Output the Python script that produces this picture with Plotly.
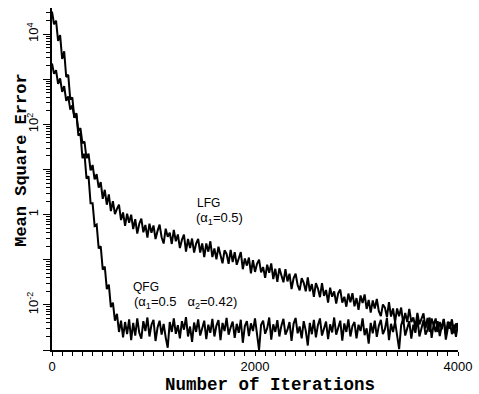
import plotly.graph_objects as go

# Iterations sampled every 20 steps (0..4000)
iterations = list(range(0, 4001, 20))

# log10(Mean Square Error), LFG (alpha1=0.5)
lfg_log10_mse = [
    3.35, 3.12, 3.20, 2.90, 3.02, 2.72, 2.85, 2.52, 2.62, 2.33,
    2.42, 2.15, 2.22, 1.85, 1.92, 1.58, 1.62, 1.25, 1.35, 0.98,
    1.10, 0.78, 0.90, 0.60, 0.72, 0.35, 0.55, 0.22, 0.45, 0.08,
    0.30, 0.01, 0.13, 0.22, -0.12, 0.05, -0.25, 0.02, -0.18, 0.00,
    -0.32, -0.10, -0.42, -0.20, -0.09, -0.39, -0.23, -0.51, -0.20, -0.40,
    -0.24, -0.54, -0.36, -0.22, -0.50, -0.64, -0.31, -0.49, -0.40, -0.65,
    -0.34, -0.59, -0.44, -0.74, -0.56, -0.44, -0.82, -0.54, -0.74, -0.53,
    -0.84, -0.64, -0.54, -0.84, -0.64, -0.94, -0.64, -0.82, -0.59, -0.94,
    -0.75, -0.99, -0.71, -0.90, -1.08, -0.79, -0.87, -1.09, -0.78, -1.05,
    -0.83, -1.11, -0.99, -0.83, -1.21, -0.97, -1.13, -0.95, -1.30, -1.01,
    -1.27, -1.09, -1.00, -1.28, -1.16, -1.40, -1.11, -1.29, -1.08, -1.43,
    -1.20, -1.49, -1.19, -1.34, -1.50, -1.21, -1.48, -1.31, -1.65, -1.41,
    -1.31, -1.56, -1.68, -1.41, -1.51, -1.70, -1.39, -1.70, -1.54, -1.82,
    -1.52, -1.64, -1.83, -1.52, -1.80, -1.67, -1.95, -1.62, -1.82, -1.70,
    -1.97, -1.74, -1.66, -1.95, -1.82, -2.04, -1.75, -1.94, -1.74, -2.03,
    -1.85, -2.11, -1.79, -1.96, -1.77, -2.09, -1.89, -2.17, -1.90, -2.08,
    -1.87, -2.14, -2.25, -1.99, -2.06, -2.27, -1.94, -2.26, -2.08, -2.38,
    -2.08, -2.25, -2.06, -2.41, -2.18, -2.38, -2.09, -2.38, -2.28, -2.50,
    -2.18, -2.43, -2.30, -2.19, -2.52, -2.29, -2.60, -2.30, -2.45, -2.30,
    -2.60, -2.38, -2.54, -2.31, -2.66, -2.37, -2.53, -2.32, -2.63, -2.41,
    -2.55,
]

# log10(Mean Square Error), QFG (alpha1=0.5, alpha2=0.42)
qfg_log10_mse = [
    4.50, 4.22, 4.30, 3.85, 3.98, 3.45, 3.62, 3.05, 3.10, 2.55,
    2.60, 2.15, 2.25, 1.75, 1.80, 1.25, 1.35, 0.80, 0.85, 0.25,
    0.25, -0.25, -0.22, -0.75, -0.70, -1.22, -1.15, -1.65, -1.55, -2.05,
    -1.95, -2.35, -2.20, -2.60, -2.35, -2.72, -2.38, -2.65, -2.32, -2.78,
    -2.40, -2.68, -2.30, -2.62, -2.75, -2.36, -2.58, -2.28, -2.70, -2.44,
    -2.33, -2.80, -2.50, -2.35, -2.66, -2.42, -2.72, -2.95, -2.38, -2.60,
    -2.30, -2.64, -2.45, -2.74, -2.36, -2.55, -2.27, -2.70, -2.48, -2.82,
    -2.39, -2.60, -2.32, -2.68, -2.52, -2.35, -2.76, -2.44, -2.62, -2.31,
    -2.70, -2.46, -2.34, -2.78, -2.40, -2.58, -2.29, -2.66, -2.50, -2.37,
    -2.73, -2.42, -2.62, -2.33, -2.84, -2.47, -2.36, -2.69, -2.41, -2.58,
    -2.30, -2.71, -3.00, -2.44, -2.35, -2.64, -2.52, -2.28, -2.77, -2.43,
    -2.60, -2.34, -2.70, -2.46, -2.31, -2.66, -2.55, -2.38, -2.80, -2.42,
    -2.29, -2.63, -2.48, -2.74, -2.36, -2.57, -2.90, -2.40, -2.65, -2.33,
    -2.72, -2.45, -2.30, -2.68, -2.52, -2.37, -2.76, -2.43, -2.61, -2.28,
    -2.66, -2.50, -2.35, -2.79, -2.41, -2.60, -2.32, -2.70, -2.47, -2.38,
    -2.74, -2.44, -2.58, -2.30, -2.67, -2.52, -2.86, -2.40, -2.63, -2.35,
    -2.71, -2.46, -2.33, -2.65, -2.54, -2.29, -2.78, -2.42, -2.60, -2.37,
    -2.72, -2.98, -2.45, -2.31, -2.68, -2.50, -2.36, -2.75, -2.44, -2.62,
    -2.30, -2.70, -2.48, -2.34, -2.66, -2.55, -2.28, -2.73, -2.43, -2.60,
    -2.36, -2.69, -2.47, -2.32, -2.77, -2.52, -2.38, -2.65, -2.44, -2.71,
    -2.40,
]

lfg_mse = [10 ** v for v in lfg_log10_mse]
qfg_mse = [10 ** v for v in qfg_log10_mse]

# Axis tick values / labels
x_tickvals = [0, 2000, 4000]
x_ticktext = ["0", "2000", "4000"]
y_decades = [1e-3, 1e-2, 1e-1, 1, 1e1, 1e2, 1e3, 1e4]
y_ticktext = ["", "10<sup>-2</sup>", "", "1", "", "10<sup>2</sup>", "", "10<sup>4</sup>"]
y_minor = [m * d for d in y_decades for m in range(2, 10) if m * d < 3.8e4]

fig = go.Figure()
fig.add_trace(go.Scatter(x=iterations, y=lfg_mse, mode="lines",
                         line=dict(color="black", width=2), showlegend=False))
fig.add_trace(go.Scatter(x=iterations, y=qfg_mse, mode="lines",
                         line=dict(color="black", width=2), showlegend=False))

ann_font = dict(family="Liberation Sans, Arial, sans-serif", size=12, color="black")
par_font = dict(family="Liberation Sans, Arial, sans-serif", size=13, color="black")
fig.add_annotation(x=1540, y=0.26, xref="x", yref="y", text="LFG", showarrow=False, font=ann_font)
fig.add_annotation(x=1655, y=-0.08, xref="x", yref="y", text="(α<sub>1</sub>=0.5)", showarrow=False, font=par_font)
fig.add_annotation(x=930, y=-1.60, xref="x", yref="y", text="QFG", showarrow=False, font=ann_font)
fig.add_annotation(x=1320, y=-1.95, xref="x", yref="y",
                   text="(α<sub>1</sub>=0.5&nbsp;&nbsp;&nbsp;α<sub>2</sub>=0.42)", showarrow=False, font=par_font)

title_font = dict(family="Liberation Mono, Courier New, monospace", size=17, color="black", weight="bold")
tick_font = dict(family="Liberation Sans, Arial, sans-serif", size=13, color="black")

# Axis titles placed as paper annotations
fig.add_annotation(x=0.537, y=-0.103, xref="paper", yref="paper", text="Number of Iterations",
                   showarrow=False, xanchor="center", yanchor="middle",
                   font=dict(family="Liberation Mono, Courier New, monospace", size=17.5, color="black", weight="bold"))
fig.add_annotation(x=-0.074, y=0.556, xref="paper", yref="paper", text="Mean Square Error",
                   showarrow=False, xanchor="center", yanchor="middle", textangle=-90, font=title_font)

fig.update_layout(
    width=479, height=394,
    margin=dict(l=52, r=21, t=8, b=44),
    paper_bgcolor="white", plot_bgcolor="white",
    xaxis=dict(
        range=[0, 4000], showgrid=False, zeroline=False,
        showline=True, linecolor="black", linewidth=1.5,
        ticks="outside", ticklen=4, tickwidth=1.2, tickcolor="black",
        tickvals=x_tickvals, ticktext=x_ticktext, tickfont=tick_font,
        minor=dict(ticks="outside", dtick=100, tick0=0, ticklen=4, tickwidth=1, tickcolor="black", showgrid=False),
    ),
    yaxis=dict(
        type="log", range=[-3, 4.58], showgrid=False, zeroline=False,
        showline=True, linecolor="black", linewidth=1.5,
        ticks="outside", ticklen=7, tickwidth=1.2, tickcolor="black",
        tickvals=y_decades, ticktext=y_ticktext, tickangle=-90, tickfont=tick_font,
        minor=dict(ticks="outside", tickvals=y_minor, ticklen=4, tickwidth=1, tickcolor="black", showgrid=False),
    ),
)

fig.write_html("out.html", config={"displayModeBar": False},
               post_script="document.body.style.margin='0';")
